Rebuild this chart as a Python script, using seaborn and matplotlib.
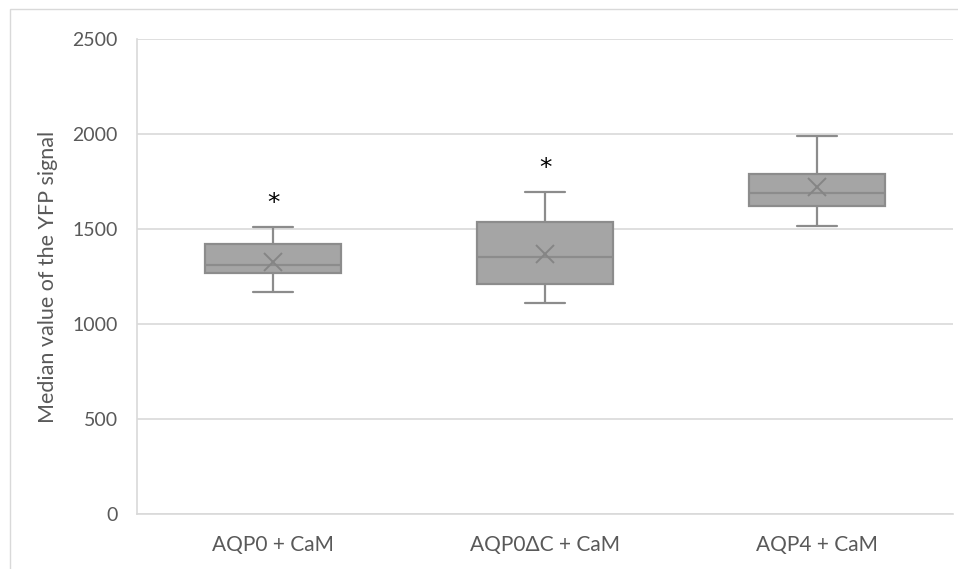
import numpy as np
import pandas as pd
import matplotlib
matplotlib.use("Agg")
import matplotlib.pyplot as plt
import seaborn as sns
from matplotlib.patches import Rectangle

# ---- data (five-number summaries + means) ----
categories = ["AQP0 + CaM", "AQP0\u0394C + CaM", "AQP4 + CaM"]
whisker_low = [1170, 1110, 1515]
q1_values = [1270, 1208, 1620]
medians = [1308, 1355, 1692]
q3_values = [1423, 1535, 1788]
whisker_high = [1512, 1696, 1988]
means = [1328, 1367, 1722]
significance = ["*", "*", ""]
yticks = [0, 500, 1000, 1500, 2000, 2500]

# long table: five values per group reproduce min/Q1/median/Q3/max exactly
rows = []
for c, a, b, m, d, e in zip(categories, whisker_low, q1_values, medians,
                            q3_values, whisker_high):
    for v in (a, b, m, d, e):
        rows.append({"group": c, "value": v})
df = pd.DataFrame(rows)

sns.set_theme(style="white")
plt.rcParams["font.family"] = ["Lato", "DejaVu Sans"]

fig = plt.figure(figsize=(9.58, 5.69), dpi=100)
ax = fig.add_axes([137 / 958, 1 - 514 / 569, (953 - 137) / 958, (514 - 39) / 569])

box_fill = "#a5a5a5"
edge = "#8c8c8c"
sns.boxplot(data=df, x="group", y="value", order=categories, ax=ax,
            whis=(0, 100), width=0.5, color=box_fill, saturation=1,
            linecolor=edge, linewidth=1.6, showfliers=False,
            boxprops=dict(facecolor=box_fill, edgecolor=edge),
            medianprops=dict(color=edge, linewidth=1.6),
            whiskerprops=dict(color=edge, linewidth=1.6),
            capprops=dict(color=edge, linewidth=1.6))

# narrower caps as in the reference
for line in ax.lines:
    xd = np.asarray(line.get_xdata(), dtype=float)
    yd = np.asarray(line.get_ydata(), dtype=float)
    if len(xd) == 2 and yd[0] == yd[1] and abs(xd[1] - xd[0]) < 0.4 and yd[0] in whisker_low + whisker_high:
        cx = xd.mean()
        line.set_xdata([cx - 0.075, cx + 0.075])

# mean markers
ax.plot(range(len(categories)), means, linestyle="none", marker="x",
        markersize=13, markeredgewidth=1.4, color="#858585", zorder=5)

# significance stars
for i, (s, hi) in enumerate(zip(significance, whisker_high)):
    if s:
        ax.text(i, hi + 125, s, ha="center", va="center", fontsize=18,
                color="black", family=["DejaVu Sans"])

ax.set_ylim(0, 2500)
ax.set_xlim(-0.5, 2.5)
ax.set_yticks(yticks)
ax.set_yticklabels([str(t) for t in yticks])
ax.yaxis.grid(True, color="#d9d9d9", linewidth=1.2)
ax.set_axisbelow(True)
ax.tick_params(axis="both", length=0, colors="#595959")
ax.tick_params(axis="y", pad=14, labelsize=14)
ax.tick_params(axis="x", pad=15, labelsize=15)
ax.set_xlabel("")
ax.set_ylabel("Median value of the YFP signal", fontsize=15.5, color="#595959",
              labelpad=10)
for side in ("top", "right"):
    ax.spines[side].set_visible(False)
for side in ("left", "bottom"):
    ax.spines[side].set_color("#d9d9d9")
    ax.spines[side].set_linewidth(1.2)

# outer chart border (top and left visible)
fig.patches.append(Rectangle((10 / 958, -0.1), 1.2, 1 - 9 / 569 + 0.1,
                             transform=fig.transFigure, fill=False,
                             edgecolor="#d9d9d9", linewidth=1.0))

fig.savefig("out.png", dpi=100, facecolor="white")
